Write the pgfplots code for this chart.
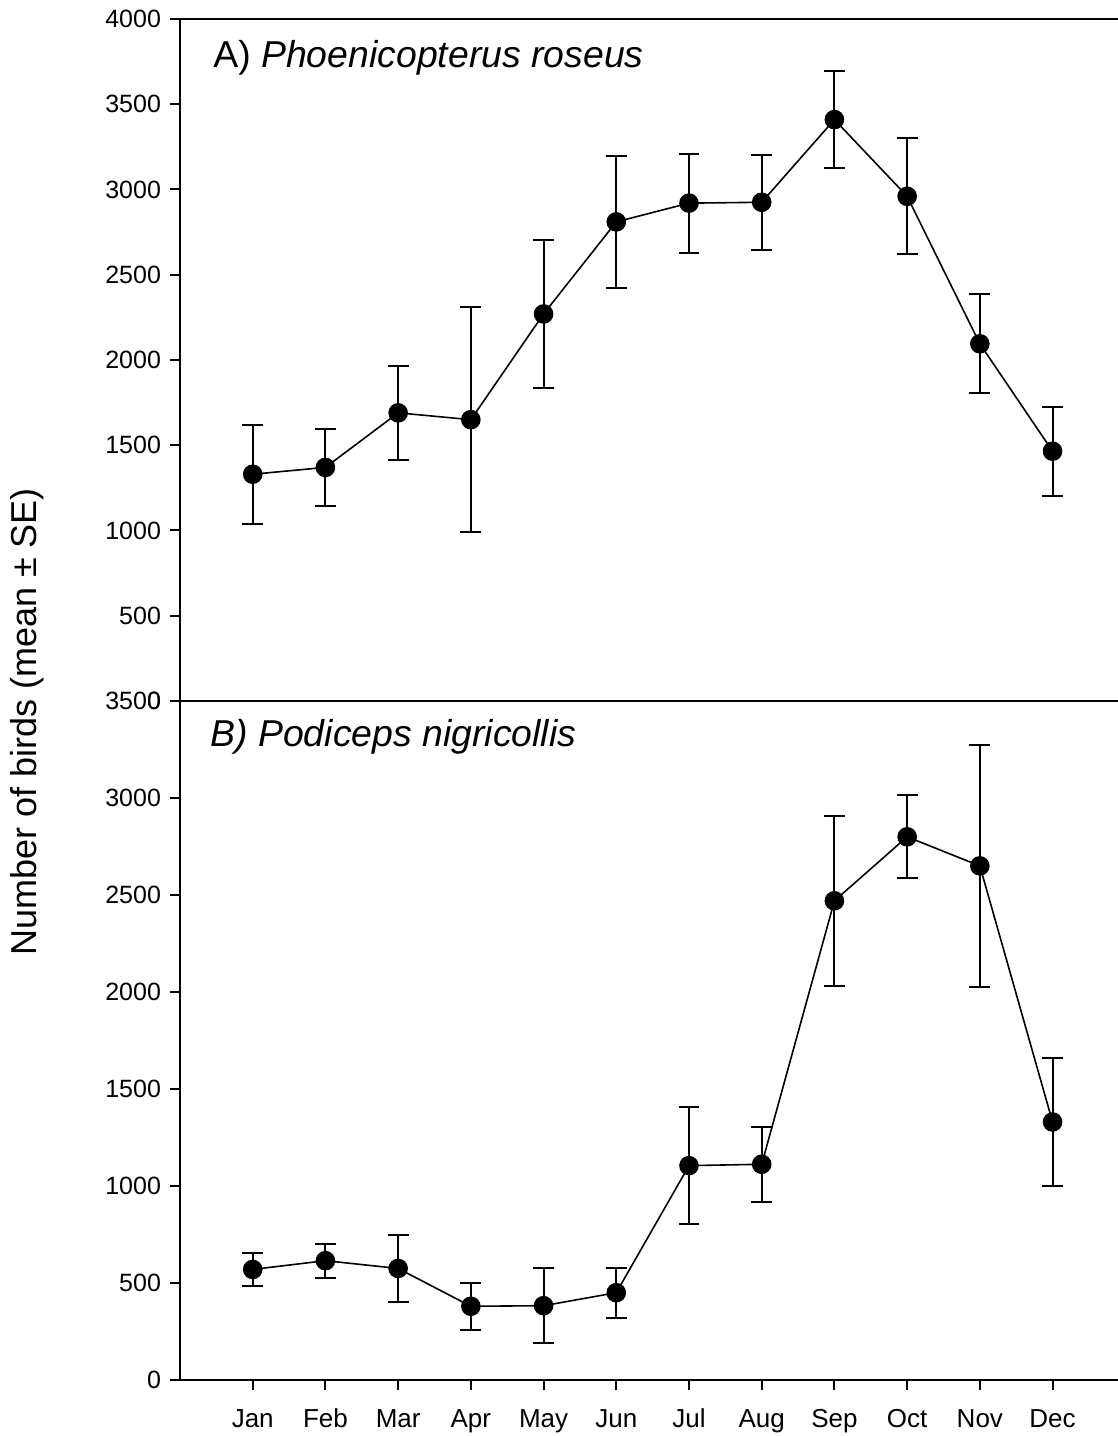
\documentclass[border=0pt]{standalone}
\usepackage{pgfplots}
\pgfplotsset{compat=1.18}
\usepackage{pgfplotstable}
\usepackage{fontspec}
\setmainfont{Liberation Sans}

% month, mean, SE
\pgfplotstableread{
m y e
1 1330 290
2 1370 225
3 1690 275
4 1650 660
5 2270 435
6 2810 385
7 2920 290
8 2925 280
9 3410 285
10 2960 340
11 2095 290
12 1465 260
}\flamingo

\pgfplotstableread{
m y e
1 570 85
2 615 88
3 575 175
4 380 120
5 383 193
6 450 128
7 1105 300
8 1112 192
9 2470 437
10 2800 213
11 2650 622
12 1330 328
}\grebe

\begin{document}
\begin{tikzpicture}
\pgfplotsset{
  panel/.style={
    scale only axis, width=469pt,
    xmin=0, xmax=12.9,
    axis y line=left,
    every outer x axis line/.append style={-},
    every outer y axis line/.append style={-},
    tick style={line width=1pt, black},
    major tick length=5pt,
    yticklabel style={font=\fontsize{12.5}{15}\selectfont, xshift=-1pt},
    /pgf/number format/assume math mode=true,
    /pgf/number format/1000 sep={},
  },
  birds/.style={
    black, line width=0.8pt,
    mark=*, mark size=4.5pt, mark options={solid},
    error bars/.cd, y dir=both, y explicit,
    error bar style={line width=1pt},
    error mark options={rotate=90, mark size=5.2pt, line width=1pt},
  },
}
% B) lower panel
\begin{axis}[panel,
  at={(0,0)}, anchor=south west, height=339.5pt,
  axis x line=bottom,
  ymin=0, ymax=3500, ytick={0,500,...,3500},
  xtick={1,...,12},
  xticklabels={Jan,Feb,Mar,Apr,May,Jun,Jul,Aug,Sep,Oct,Nov,Dec},
  xticklabel style={font=\fontsize{13}{15}\selectfont,
    text height=9.5pt, text depth=3pt, yshift=-5.5pt},
  axis line style={-, line width=1pt},
  tick align=outside,
]
\addplot[birds] table[x=m, y=y, y error=e] {\grebe};
\node[anchor=base west, inner sep=0pt, font=\fontsize{18.7}{21}\selectfont\itshape]
  at (axis description cs:0.032,0.9323) {B) Podiceps nigricollis};
\end{axis}
% A) upper panel
\begin{axis}[panel,
  at={(0,339.5pt)}, anchor=south west, height=341pt,
  axis x line=box, xtick=\empty,
  ymin=0, ymax=4000, ytick={0,500,...,4000},
  axis line style={-, line width=1pt},
  tick align=outside,
]
\addplot[birds] table[x=m, y=y, y error=e] {\flamingo};
\node[anchor=base west, inner sep=0pt, font=\fontsize{18.7}{21}\selectfont]
  at (axis description cs:0.0352,0.9296) {A) \textit{Phoenicopterus roseus}};
\end{axis}
\node[rotate=90, font=\fontsize{18}{21}\selectfont] at (-76.5pt,329pt)
  {Number of birds (mean ± SE)};
\pgfresetboundingbox
\path (-90pt,-28pt) rectangle (469pt,690pt);
\end{tikzpicture}
\end{document}
